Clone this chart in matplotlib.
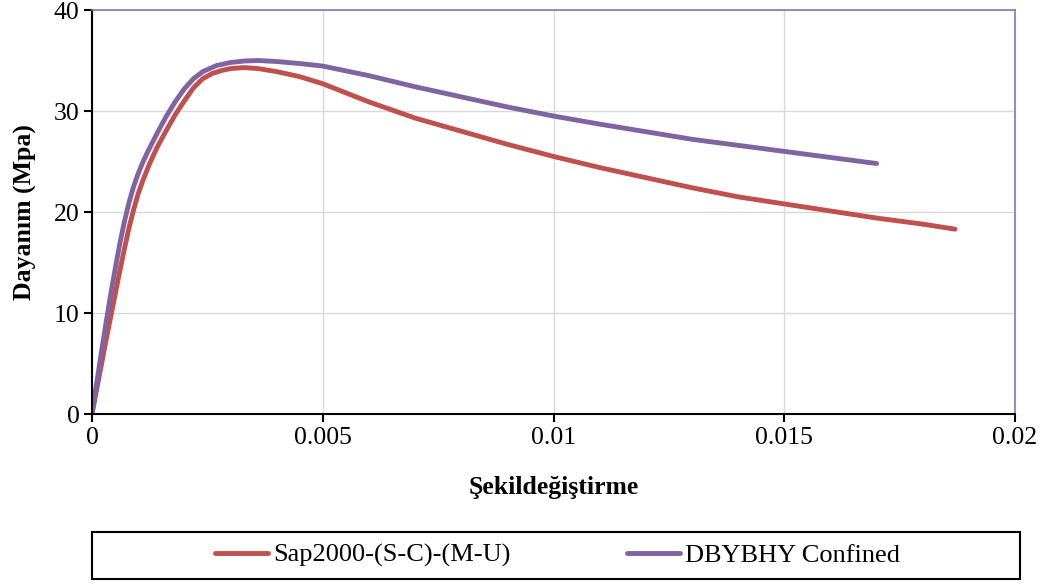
import matplotlib.pyplot as plt
from matplotlib.patches import Rectangle
from matplotlib.ticker import MultipleLocator, FuncFormatter

plt.rcParams['font.family'] = ['Liberation Serif', 'DejaVu Serif']

# strain / stress curves
sap_strain = [0, 0.0001, 0.0002, 0.0003, 0.0004, 0.0005, 0.0006, 0.0007, 0.0008, 0.0009,
              0.001, 0.0011, 0.00125, 0.0014, 0.0016, 0.0018, 0.002, 0.0022, 0.0024, 0.0026,
              0.0028, 0.003, 0.0033, 0.0036, 0.004, 0.0045, 0.005, 0.0055, 0.006, 0.0065,
              0.007, 0.008, 0.009, 0.01, 0.011, 0.012, 0.013, 0.014, 0.015, 0.016,
              0.017, 0.018, 0.0187]
sap_stress = [0, 2.4, 4.8, 7.2, 9.5, 11.8, 14.1, 16.3, 18.4, 20.2,
              21.8, 23.1, 24.8, 26.3, 28.0, 29.6, 31.0, 32.3, 33.2, 33.7,
              34.0, 34.2, 34.3, 34.2, 33.9, 33.4, 32.7, 31.8, 30.9, 30.1,
              29.3, 28.0, 26.7, 25.5, 24.4, 23.4, 22.4, 21.5, 20.8, 20.1,
              19.4, 18.8, 18.3]

dbybhy_strain = [0, 0.0001, 0.0002, 0.0003, 0.0004, 0.0005, 0.0006, 0.0007, 0.0008, 0.0009,
                 0.001, 0.0011, 0.0012, 0.0014, 0.0016, 0.0018, 0.002, 0.0022, 0.0024, 0.0027,
                 0.003, 0.0033, 0.0036, 0.004, 0.0045, 0.005, 0.006, 0.007, 0.008, 0.009,
                 0.01, 0.011, 0.012, 0.013, 0.014, 0.015, 0.016, 0.017]
dbybhy_stress = [0, 3.0, 6.0, 8.9, 11.7, 14.3, 16.8, 19.0, 20.9, 22.5,
                 23.8, 24.9, 25.9, 27.7, 29.4, 30.9, 32.2, 33.2, 33.9, 34.5,
                 34.8, 34.95, 35.0, 34.9, 34.7, 34.45, 33.5, 32.4, 31.4, 30.4,
                 29.5, 28.7, 27.95, 27.2, 26.6, 26.0, 25.4, 24.8]

labels = ['Sap2000-(S-C)-(M-U)', 'DBYBHY Confined']
colors = ['#C0504D', '#8064A2']

fig = plt.figure(figsize=(10.43, 5.85), dpi=100)
ax = fig.add_axes([0.0882, 0.2923, 0.8850, 0.6906])

ax.plot(sap_strain, sap_stress, color=colors[0], lw=3.5, label=labels[0],
        solid_capstyle='round', solid_joinstyle='round')
ax.plot(dbybhy_strain, dbybhy_stress, color=colors[1], lw=3.5, label=labels[1],
        solid_capstyle='round', solid_joinstyle='round')

ax.set_xlim(0, 0.02)
ax.set_ylim(0, 40)
ax.xaxis.set_major_locator(MultipleLocator(0.005))
ax.yaxis.set_major_locator(MultipleLocator(10))
ax.xaxis.set_major_formatter(FuncFormatter(lambda v, p: '0' if v == 0 else ('%g' % v)))
ax.grid(True, color='#D9D9D9', lw=1)
ax.set_axisbelow(True)

for s in ['left', 'bottom']:
    ax.spines[s].set_color('black')
    ax.spines[s].set_linewidth(1.5)
for s in ['top', 'right']:
    ax.spines[s].set_color('#8C73B4')
    ax.spines[s].set_linewidth(1.2)

ax.tick_params(direction='out', length=6, width=1.5, labelsize=18.5, pad=3,
               top=False, right=False)

ax.set_xlabel('Şekildeğiştirme', fontsize=18.5, fontweight='bold', labelpad=20)
ax.set_ylabel('Dayanım (Mpa)', fontsize=18.5, fontweight='bold', labelpad=12)

# legend box spanning the plot width
fig.patches.append(Rectangle((0.0882, 0.0103), 0.890, 0.0803, transform=fig.transFigure,
                             fill=False, edgecolor='black', lw=1.5))
fig.legend(loc='center', bbox_to_anchor=(0.5345, 0.0504), ncol=2, fontsize=19,
           frameon=False, handlelength=2.0, handletextpad=0.2, columnspacing=4.4,
           borderaxespad=0)

fig.savefig('out.png', dpi=100)
